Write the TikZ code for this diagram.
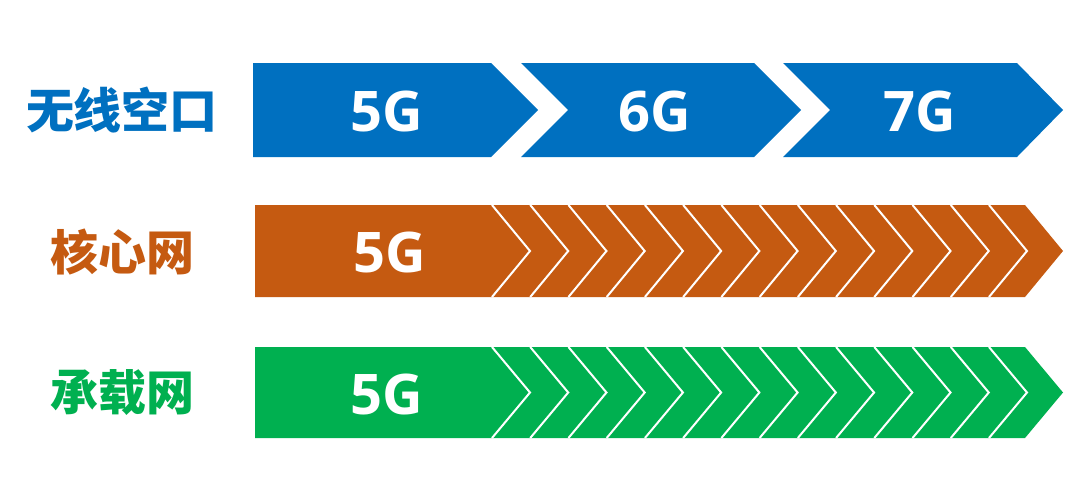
\documentclass[tikz,border=0pt]{standalone}
\usepackage{fontspec}
\setmainfont{Open Sans}
\newfontfamily\cjk{Noto Sans CJK SC}
\definecolor{cblue}{HTML}{0070C0}
\definecolor{corange}{HTML}{C55A11}
\definecolor{cgreen}{HTML}{00B050}
\tikzset{
  gtext/.style={text=white, font=\fontsize{56}{60}\selectfont\bfseries, inner sep=0pt},
  rowlabel/.style={font=\cjk\fontsize{48}{52}\selectfont\bfseries, inner sep=0pt},
  sepline/.style={draw=white, line width=2pt, line join=miter},
}
\begin{document}
\begin{tikzpicture}[x=1pt,y=-1pt]
\fill[white] (0,0) rectangle (1080,501);
% top row
\fill[cblue] (253,63) -- (491,63) -- (538,110) -- (491,157) -- (253,157) -- cycle;
\fill[cblue] (521,63) -- (754,63) -- (801,110) -- (754,157) -- (521,157) -- (568,110) -- cycle;
\fill[cblue] (783,63) -- (1017,63) -- (1063,110) -- (1017,157) -- (783,157) -- (830,110) -- cycle;
% middle row
\fill[corange] (255,205) -- (1025,205) -- (1063,251) -- (1025,297) -- (255,297) -- cycle;
\foreach \k in {0,...,13}
  \draw[sepline] ({492+38.23*\k},205) -- ++(38,46) -- ++(-38,46);
% bottom row
\fill[cgreen] (255,347) -- (1025,347) -- (1063,392.5) -- (1025,438) -- (255,438) -- cycle;
\foreach \k in {0,...,13}
  \draw[sepline] ({492+38.23*\k},347) -- ++(38,45.5) -- ++(-38,45.5);
% texts
\node[gtext] (g1) at (387,111) {5G};
\node[gtext] (g2) at (655,111) {6G};
\node[gtext] (g3) at (920,111) {7G};
\node[gtext] (g4) at (390,252) {5G};
\node[gtext] (g5) at (387,394) {5G};
\node[rowlabel, text=cblue] (l1) at (122,110) {无线空口};
\node[rowlabel, text=corange] (l2) at (122,252) {核心网};
\node[rowlabel, text=cgreen] (l3) at (122,393) {承载网};
\end{tikzpicture}
\end{document}
